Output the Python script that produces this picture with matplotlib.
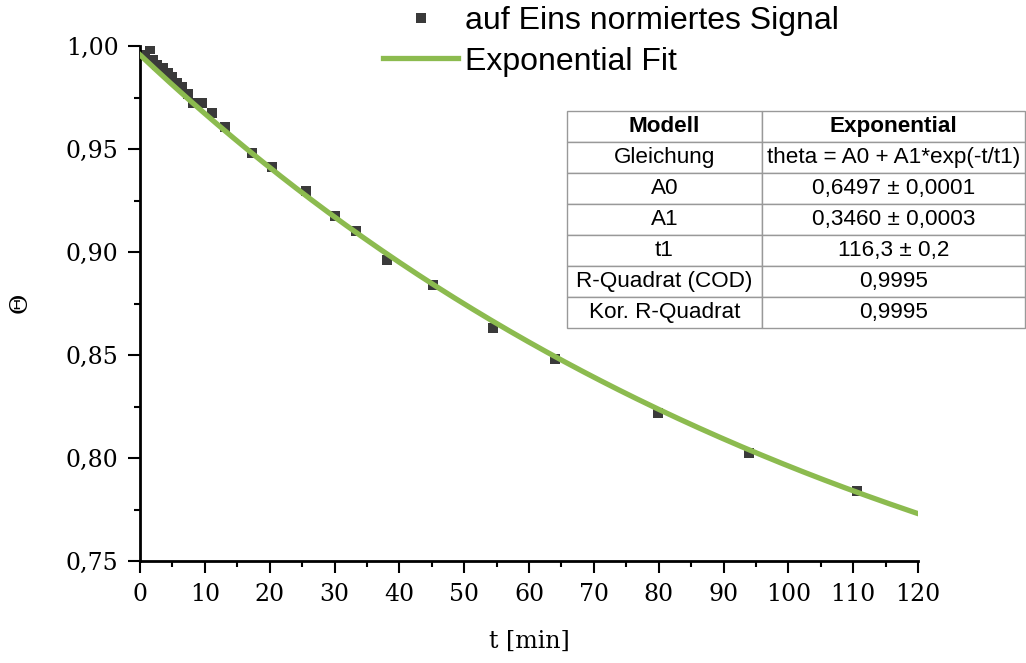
import numpy as np
import matplotlib
matplotlib.use("Agg")
import matplotlib.pyplot as plt
from matplotlib.ticker import MultipleLocator, FuncFormatter

# measured signal (normalised to one)
t_min = [0.8, 1.5, 2.0, 2.6, 3.5, 4.3, 5.0, 5.7, 6.5, 7.4, 8.2, 9.6, 11.1, 13.1,
         17.3, 20.4, 25.6, 30.1, 33.3, 38.1, 45.2, 54.5, 64.0, 79.9, 93.9, 110.6]
theta = [0.9956, 0.9985, 0.9932, 0.9910, 0.9893, 0.9869, 0.9850, 0.9820, 0.9800,
         0.9767, 0.9723, 0.9723, 0.9675, 0.9607, 0.9480, 0.9413, 0.9296, 0.9175,
         0.9100, 0.8960, 0.8840, 0.8631, 0.8480, 0.8218, 0.8024, 0.7840]

# fit parameters (from the fit table)
A0, A1, t1 = 0.6497, 0.3460, 116.3

table_rows = [
    ["Modell", "Exponential"],
    ["Gleichung", "theta = A0 + A1*exp(-t/t1)"],
    ["A0", "0,6497 \u00b1 0,0001"],
    ["A1", "0,3460 \u00b1 0,0003"],
    ["t1", "116,3 \u00b1 0,2"],
    ["R-Quadrat (COD)", "0,9995"],
    ["Kor. R-Quadrat", "0,9995"],
]

W, H = 1026, 663
fig = plt.figure(figsize=(W / 100, H / 100), dpi=100)
ax = fig.add_axes([140 / W, 1 - 561 / H, 778 / W, 515 / H])

green = "#8cbb4f"
t_fit = np.linspace(0, 120, 300)
ax.plot(t_min, theta, ls="none", marker="s", ms=6.5, mew=0, color="#3a3a3a",
        label="auf Eins normiertes Signal", zorder=2)
ax.plot(t_fit, A0 + A1 * np.exp(-t_fit / t1), color=green, lw=3.8,
        label="Exponential Fit", zorder=3)

ax.set_xlim(0, 120)
ax.set_ylim(0.75, 1.00)
ax.xaxis.set_major_locator(MultipleLocator(10))
ax.xaxis.set_minor_locator(MultipleLocator(5))
ax.yaxis.set_major_locator(MultipleLocator(0.05))
ax.yaxis.set_minor_locator(MultipleLocator(0.025))
ax.yaxis.set_major_formatter(FuncFormatter(lambda v, p: f"{v:.2f}".replace(".", ",")))

for s in ["top", "right"]:
    ax.spines[s].set_visible(False)
for s in ["left", "bottom"]:
    ax.spines[s].set_linewidth(2)

serif = "DejaVu Serif"
ax.tick_params(which="major", direction="out", length=8.5, width=1.5, pad=7)
ax.tick_params(which="minor", direction="out", length=4.5, width=1.5)
for lab in ax.get_xticklabels() + ax.get_yticklabels():
    lab.set_fontfamily(serif)
    lab.set_fontsize(17)

ax.set_xlabel("t [min]", fontsize=17, fontfamily=serif)
ax.xaxis.set_label_coords(0.5, -0.134)
fig.text(20 / W, 1 - 303 / H, "\u0398", rotation=90, ha="center", va="center",
         fontsize=18, fontfamily=serif)

fig.legend(loc="upper left", bbox_to_anchor=(383 / W, 1 - 6 / H),
           bbox_transform=fig.transFigure, frameon=False, borderpad=0,
           borderaxespad=0, handlelength=2.35, handletextpad=0.22,
           labelspacing=0.33, numpoints=1,
           prop={"family": "Liberation Sans", "size": 23})

# fit result table
tax = fig.add_axes([567 / W, 1 - 328 / H, 458 / W, 217 / H])
tax.axis("off")
tbl = tax.table(cellText=table_rows, cellLoc="center", bbox=[0, 0, 1, 1],
                colWidths=[0.426, 0.574])
tbl.auto_set_font_size(False)
for (r, c), cell in tbl.get_celld().items():
    cell.set_edgecolor("#999999")
    cell.set_linewidth(1)
    cell.get_text().set_fontfamily("Liberation Sans")
    cell.get_text().set_fontsize(16.2)
    if r == 0:
        cell.get_text().set_fontweight("bold")

fig.savefig("out.png", dpi=100)
